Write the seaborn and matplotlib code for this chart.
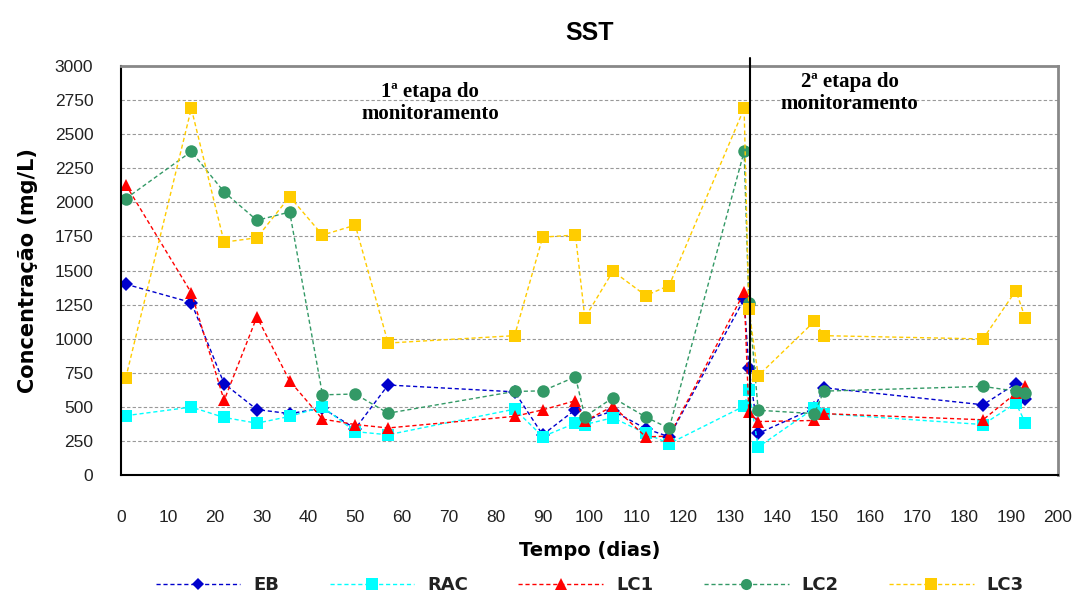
import pandas as pd
import seaborn as sns
import matplotlib.pyplot as plt

# ==============================================================================
# DADOS
# ==============================================================================

DIAS = [1, 15, 22, 29, 36, 43, 50, 57, 84, 90, 97, 99, 105, 112, 117,
        133, 134, 136, 148, 150, 184, 191, 193]

EB = [1400, 1265, 670, 480, 450, 490, 340, 660, 610, 295, 480, 400, 470, 340, 280,
      1290, 785, 305, 490, 640, 515, 670, 560]
RAC = [435, 498, 422, 380, 430, 500, 318, 295, 483, 282, 380, 370, 420, 305, 230,
       505, 625, 205, 490, 450, 370, 527, 385]
LC1 = [2130, 1336, 547, 1160, 690, 410, 370, 345, 430, 478, 545, 395, 505, 280, 285,
       1340, 460, 392, 400, 450, 405, 600, 655]
LC2 = [2027, 2373, 2076, 1868, 1929, 588, 594, 453, 613, 617, 720, 428, 567, 425, 342,
       2373, 1265, 475, 450, 615, 650, 615, 605]
LC3 = [711, 2689, 1708, 1740, 2042, 1760, 1833, 968, 1022, 1745, 1760, 1152, 1495, 1316, 1390,
       2689, 1220, 728, 1127, 1022, 998, 1353, 1152]

SERIES = ["EB", "RAC", "LC1", "LC2", "LC3"]
CORES = {"EB": "#0000CC", "RAC": "#00FFFF", "LC1": "#FF0000", "LC2": "#339966", "LC3": "#FFCC00"}
MARCADORES = {"EB": "D", "RAC": "s", "LC1": "^", "LC2": "o", "LC3": "s"}

INICIO_ETAPA2 = 134.2

# ==============================================================================
# PLOT
# ==============================================================================

sns.set_theme(style="white")
plt.rcParams['font.family'] = ['Liberation Sans', 'DejaVu Sans']
plt.rcParams['text.color'] = 'black'

rows = []
for nome, vals in zip(SERIES, [EB, RAC, LC1, LC2, LC3]):
    for d, v in zip(DIAS, vals):
        rows.append({"Dia": d, "Conc": v, "Serie": nome})
df = pd.DataFrame(rows)

fig = plt.figure(figsize=(10.75, 5.98), dpi=100)
ax = fig.add_axes([0.1126, 0.2057, 0.8716, 0.6839])

sns.lineplot(
    data=df, x="Dia", y="Conc", hue="Serie", style="Serie",
    hue_order=SERIES, style_order=SERIES,
    palette=CORES, markers=MARCADORES,
    dashes={s: (3, 2) for s in SERIES},
    linewidth=1.0, markersize=9, markeredgewidth=0,
    sort=False, ax=ax
)

# losangos do EB são menores
for ln in ax.lines:
    if ln.get_marker() == "D":
        ln.set_markersize(7)

ax.set_xlim(0, 200)
ax.set_ylim(0, 3000)
ax.set_xticks(range(0, 201, 10))
ax.set_yticks(range(0, 3001, 250))

for lbl in ax.get_xticklabels() + ax.get_yticklabels():
    lbl.set_fontsize(12.5)
    lbl.set_color("#222222")

ax.yaxis.grid(True, color="#999999", linestyle=(0, (3, 2)), linewidth=0.8)
ax.xaxis.grid(False)
ax.tick_params(axis="both", direction="out", length=5, width=1, color="black")
ax.tick_params(axis="x", pad=20)
ax.tick_params(axis="y", pad=15)

for lado in ["left", "bottom"]:
    ax.spines[lado].set_color("black")
    ax.spines[lado].set_linewidth(1.5)
for lado in ["top", "right"]:
    ax.spines[lado].set_color("#888888")
    ax.spines[lado].set_linewidth(2)

# divisão das etapas
ax.plot([INICIO_ETAPA2, INICIO_ETAPA2], [0, 3060], color="black", lw=1.5, clip_on=False, zorder=5)

serif = ['Liberation Serif', 'DejaVu Serif']
ax.text(66, 2880, "1ª etapa do\nmonitoramento", ha="center", va="top",
        fontsize=15, fontweight="bold", family=serif, linespacing=1.1)
ax.text(155.5, 2955, "2ª etapa do\nmonitoramento", ha="center", va="top",
        fontsize=15, fontweight="bold", family=serif, linespacing=1.1)

bold_sans = ['DejaVu Sans']
ax.set_title("SST", fontsize=18, fontweight="bold", pad=19, color="black")
ax.set_xlabel("Tempo (dias)", fontsize=14, fontweight="bold", labelpad=12,
              family=bold_sans, color="black")
ax.set_ylabel("Concentração (mg/L)", fontsize=15, fontweight="bold", labelpad=12,
              family=bold_sans, color="black")

sns.move_legend(ax, "center", bbox_to_anchor=(0.5, -0.269), ncol=5,
                frameon=False, title=None, fontsize=13, columnspacing=2.8,
                handlelength=4.7, handletextpad=0.7)
leg = ax.get_legend()
for t in leg.get_texts():
    t.set_fontweight("bold")
    t.set_family(bold_sans)
    t.set_color("#222222")
for h in leg.legend_handles:
    h.set_markersize(6 if h.get_marker() == "D" else 8)

fig.savefig("out.png", dpi=100)
